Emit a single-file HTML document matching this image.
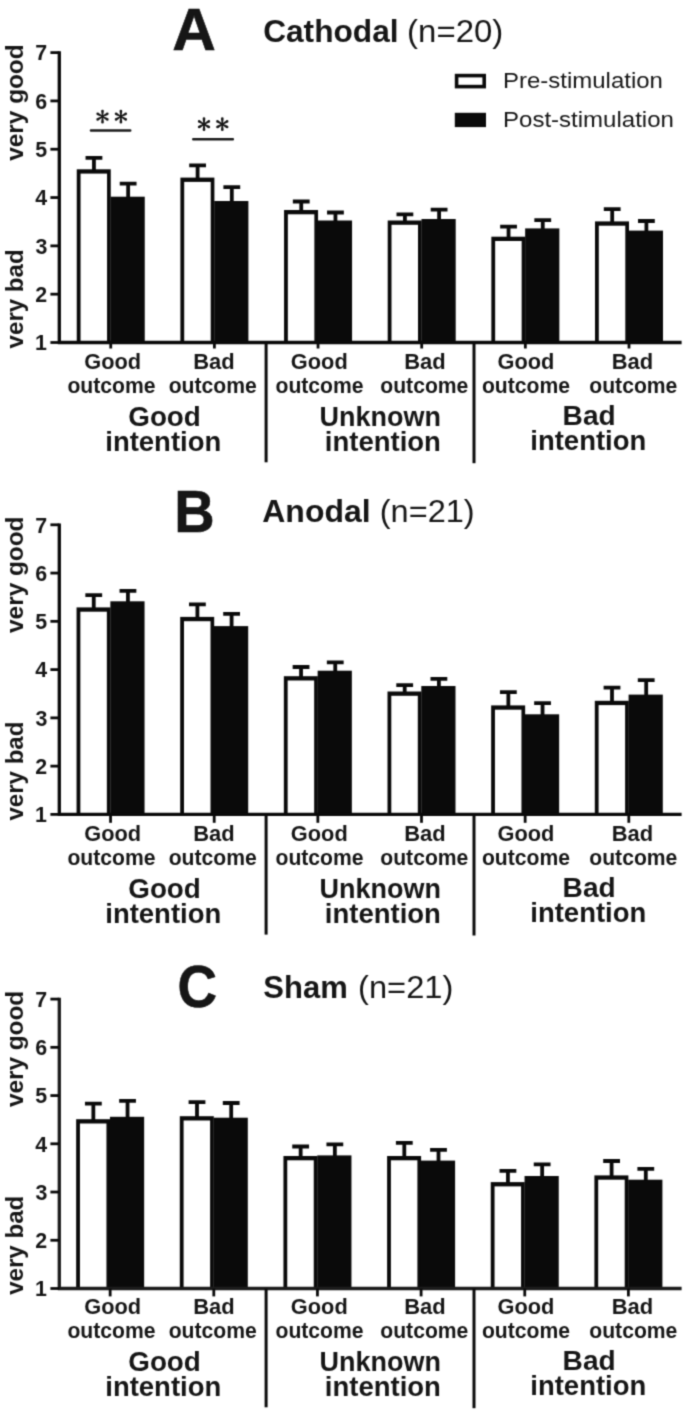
<!DOCTYPE html>
<html><head><meta charset="utf-8"><title>Figure</title>
<style>
html,body{margin:0;padding:0;background:#fff;}
body{width:685px;height:1415px;overflow:hidden;}
svg{display:block;font-family:"Liberation Sans",sans-serif;}
text{fill:#161616;}
</style></head><body>
<svg width="685" height="1415" viewBox="0 0 685 1415">
<defs><filter id="soft" x="0" y="0" width="685" height="1415" filterUnits="userSpaceOnUse" color-interpolation-filters="sRGB"><feConvolveMatrix order="3" kernelMatrix="0.0311 0.1141 0.0311 0.1141 0.4191 0.1141 0.0311 0.1141 0.0311" edgeMode="duplicate" preserveAlpha="true"/></filter></defs>
<rect width="685" height="1415" fill="#fff"/>
<g filter="url(#soft)">
<rect width="685" height="1415" fill="#fff"/>
<!-- panel A -->
<rect x="76.75" y="169.30" width="34.00" height="173.20" fill="#0a0a0a"/>
<rect x="80.55" y="173.60" width="26.50" height="168.90" fill="#fff"/>
<rect x="110.55" y="196.70" width="34.20" height="145.80" fill="#0a0a0a"/>
<path d="M93.95 170.30V157.80M85.55 157.80H102.35" stroke="#0a0a0a" stroke-width="3.8" fill="none"/>
<path d="M128.15 197.70V183.60M119.75 183.60H136.55" stroke="#0a0a0a" stroke-width="3.8" fill="none"/>
<rect x="180.40" y="177.60" width="34.00" height="164.90" fill="#0a0a0a"/>
<rect x="184.20" y="181.90" width="26.50" height="160.60" fill="#fff"/>
<rect x="214.20" y="201.00" width="34.20" height="141.50" fill="#0a0a0a"/>
<path d="M197.60 178.60V165.30M189.20 165.30H206.00" stroke="#0a0a0a" stroke-width="3.8" fill="none"/>
<path d="M231.80 202.00V187.20M223.40 187.20H240.20" stroke="#0a0a0a" stroke-width="3.8" fill="none"/>
<rect x="284.05" y="210.00" width="34.00" height="132.50" fill="#0a0a0a"/>
<rect x="287.85" y="214.30" width="26.50" height="128.20" fill="#fff"/>
<rect x="317.85" y="220.50" width="34.20" height="122.00" fill="#0a0a0a"/>
<path d="M301.25 211.00V201.50M292.85 201.50H309.65" stroke="#0a0a0a" stroke-width="3.8" fill="none"/>
<path d="M335.45 221.50V212.50M327.05 212.50H343.85" stroke="#0a0a0a" stroke-width="3.8" fill="none"/>
<rect x="387.70" y="220.50" width="34.00" height="122.00" fill="#0a0a0a"/>
<rect x="391.50" y="224.80" width="26.50" height="117.70" fill="#fff"/>
<rect x="421.50" y="219.00" width="34.20" height="123.50" fill="#0a0a0a"/>
<path d="M404.90 221.50V214.30M396.50 214.30H413.30" stroke="#0a0a0a" stroke-width="3.8" fill="none"/>
<path d="M439.10 220.00V209.70M430.70 209.70H447.50" stroke="#0a0a0a" stroke-width="3.8" fill="none"/>
<rect x="491.35" y="236.70" width="34.00" height="105.80" fill="#0a0a0a"/>
<rect x="495.15" y="241.00" width="26.50" height="101.50" fill="#fff"/>
<rect x="525.15" y="228.40" width="34.20" height="114.10" fill="#0a0a0a"/>
<path d="M508.55 237.70V226.60M500.15 226.60H516.95" stroke="#0a0a0a" stroke-width="3.8" fill="none"/>
<path d="M542.75 229.40V220.20M534.35 220.20H551.15" stroke="#0a0a0a" stroke-width="3.8" fill="none"/>
<rect x="595.00" y="221.40" width="34.00" height="121.10" fill="#0a0a0a"/>
<rect x="598.80" y="225.70" width="26.50" height="116.80" fill="#fff"/>
<rect x="628.80" y="230.60" width="34.20" height="111.90" fill="#0a0a0a"/>
<path d="M612.20 222.40V209.10M603.80 209.10H620.60" stroke="#0a0a0a" stroke-width="3.8" fill="none"/>
<path d="M646.40 231.60V221.00M638.00 221.00H654.80" stroke="#0a0a0a" stroke-width="3.8" fill="none"/>
<path d="M59.30 51.20V344.00M57.80 342.50H681.6" stroke="#0a0a0a" stroke-width="3.3" fill="none"/>
<path d="M50.4 52.60H59.30" stroke="#0a0a0a" stroke-width="2.8"/>
<text x="35.26" y="60.45" font-size="22.8" font-weight="bold" textLength="11.90" lengthAdjust="spacingAndGlyphs" >7</text>
<path d="M50.4 100.92H59.30" stroke="#0a0a0a" stroke-width="2.8"/>
<text x="35.23" y="108.77" font-size="22.8" font-weight="bold" textLength="11.90" lengthAdjust="spacingAndGlyphs" >6</text>
<path d="M50.4 149.23H59.30" stroke="#0a0a0a" stroke-width="2.8"/>
<text x="35.21" y="157.08" font-size="22.8" font-weight="bold" textLength="11.90" lengthAdjust="spacingAndGlyphs" >5</text>
<path d="M50.4 197.55H59.30" stroke="#0a0a0a" stroke-width="2.8"/>
<text x="35.15" y="205.40" font-size="22.8" font-weight="bold" textLength="11.90" lengthAdjust="spacingAndGlyphs" >4</text>
<path d="M50.4 245.87H59.30" stroke="#0a0a0a" stroke-width="2.8"/>
<text x="35.40" y="253.72" font-size="22.8" font-weight="bold" textLength="11.90" lengthAdjust="spacingAndGlyphs" >3</text>
<path d="M50.4 294.18H59.30" stroke="#0a0a0a" stroke-width="2.8"/>
<text x="35.32" y="302.03" font-size="22.8" font-weight="bold" textLength="11.90" lengthAdjust="spacingAndGlyphs" >2</text>
<path d="M50.4 342.50H59.30" stroke="#0a0a0a" stroke-width="2.8"/>
<text x="34.89" y="350.35" font-size="22.8" font-weight="bold" textLength="11.90" lengthAdjust="spacingAndGlyphs" >1</text>
<path d="M110.75 342.50V348.50" stroke="#0a0a0a" stroke-width="2.8"/>
<path d="M214.40 342.50V348.50" stroke="#0a0a0a" stroke-width="2.8"/>
<path d="M318.05 342.50V348.50" stroke="#0a0a0a" stroke-width="2.8"/>
<path d="M421.70 342.50V348.50" stroke="#0a0a0a" stroke-width="2.8"/>
<path d="M525.35 342.50V348.50" stroke="#0a0a0a" stroke-width="2.8"/>
<path d="M629.00 342.50V348.50" stroke="#0a0a0a" stroke-width="2.8"/>
<path d="M266.10 342.50V462.30" stroke="#0a0a0a" stroke-width="3"/>
<path d="M474.00 342.50V463.20" stroke="#0a0a0a" stroke-width="3"/>
<text transform="translate(22.60 160.72) rotate(-90)" font-size="23.6" font-weight="bold" textLength="116.34" lengthAdjust="spacingAndGlyphs">very good</text>
<text transform="translate(22.60 348.42) rotate(-90)" font-size="23.6" font-weight="bold" textLength="99.11" lengthAdjust="spacingAndGlyphs">very bad</text>
<text x="84.23" y="368.80" font-size="21.4" font-weight="bold" textLength="56.90" lengthAdjust="spacingAndGlyphs" >Good</text>
<text x="67.40" y="393.10" font-size="21.4" font-weight="bold" textLength="88.08" lengthAdjust="spacingAndGlyphs" >outcome</text>
<text x="193.22" y="368.80" font-size="21.4" font-weight="bold" textLength="41.44" lengthAdjust="spacingAndGlyphs" >Bad</text>
<text x="168.65" y="393.10" font-size="21.4" font-weight="bold" textLength="88.08" lengthAdjust="spacingAndGlyphs" >outcome</text>
<text x="290.83" y="368.80" font-size="21.4" font-weight="bold" textLength="56.90" lengthAdjust="spacingAndGlyphs" >Good</text>
<text x="275.50" y="393.10" font-size="21.4" font-weight="bold" textLength="88.08" lengthAdjust="spacingAndGlyphs" >outcome</text>
<text x="404.17" y="368.80" font-size="21.4" font-weight="bold" textLength="41.44" lengthAdjust="spacingAndGlyphs" >Bad</text>
<text x="380.30" y="393.10" font-size="21.4" font-weight="bold" textLength="88.08" lengthAdjust="spacingAndGlyphs" >outcome</text>
<text x="497.53" y="368.80" font-size="21.4" font-weight="bold" textLength="56.90" lengthAdjust="spacingAndGlyphs" >Good</text>
<text x="481.90" y="393.10" font-size="21.4" font-weight="bold" textLength="88.08" lengthAdjust="spacingAndGlyphs" >outcome</text>
<text x="611.67" y="368.80" font-size="21.4" font-weight="bold" textLength="41.44" lengthAdjust="spacingAndGlyphs" >Bad</text>
<text x="589.30" y="393.10" font-size="21.4" font-weight="bold" textLength="88.08" lengthAdjust="spacingAndGlyphs" >outcome</text>
<text x="128.24" y="425.70" font-size="27.6" font-weight="bold" textLength="72.63" lengthAdjust="spacingAndGlyphs" >Good</text>
<text x="105.28" y="450.90" font-size="27.6" font-weight="bold" textLength="116.01" lengthAdjust="spacingAndGlyphs" >intention</text>
<text x="319.48" y="425.70" font-size="27.6" font-weight="bold" textLength="121.43" lengthAdjust="spacingAndGlyphs" >Unknown</text>
<text x="324.82" y="450.90" font-size="27.6" font-weight="bold" textLength="116.11" lengthAdjust="spacingAndGlyphs" >intention</text>
<text x="562.60" y="424.70" font-size="27.6" font-weight="bold" textLength="53.07" lengthAdjust="spacingAndGlyphs" >Bad</text>
<text x="530.33" y="449.90" font-size="27.6" font-weight="bold" textLength="115.91" lengthAdjust="spacingAndGlyphs" >intention</text>
<text x="172.39" y="50.20" font-size="59.4" font-weight="bold" textLength="43.55" lengthAdjust="spacingAndGlyphs" stroke="#0d0d0d" stroke-width="0.6">A</text>
<text x="263.13" y="41.90" font-size="31.8" font-weight="bold" textLength="135.50" lengthAdjust="spacingAndGlyphs" >Cathodal</text>
<text x="407.14" y="41.90" font-size="31.6" font-weight="normal" textLength="96.15" lengthAdjust="spacingAndGlyphs" fill="#262626">(n=20)</text>
<!-- panel B -->
<rect x="76.55" y="607.40" width="34.00" height="207.00" fill="#0a0a0a"/>
<rect x="80.35" y="611.70" width="26.50" height="202.70" fill="#fff"/>
<rect x="110.35" y="601.30" width="34.20" height="213.10" fill="#0a0a0a"/>
<path d="M93.75 608.40V595.10M85.35 595.10H102.15" stroke="#0a0a0a" stroke-width="3.8" fill="none"/>
<path d="M127.95 602.30V590.80M119.55 590.80H136.35" stroke="#0a0a0a" stroke-width="3.8" fill="none"/>
<rect x="180.20" y="616.90" width="34.00" height="197.50" fill="#0a0a0a"/>
<rect x="184.00" y="621.20" width="26.50" height="193.20" fill="#fff"/>
<rect x="214.00" y="626.10" width="34.20" height="188.30" fill="#0a0a0a"/>
<path d="M197.40 617.90V604.30M189.00 604.30H205.80" stroke="#0a0a0a" stroke-width="3.8" fill="none"/>
<path d="M231.60 627.10V613.80M223.20 613.80H240.00" stroke="#0a0a0a" stroke-width="3.8" fill="none"/>
<rect x="283.85" y="676.20" width="34.00" height="138.20" fill="#0a0a0a"/>
<rect x="287.65" y="680.50" width="26.50" height="133.90" fill="#fff"/>
<rect x="317.65" y="670.70" width="34.20" height="143.70" fill="#0a0a0a"/>
<path d="M301.05 677.20V667.00M292.65 667.00H309.45" stroke="#0a0a0a" stroke-width="3.8" fill="none"/>
<path d="M335.25 671.70V662.40M326.85 662.40H343.65" stroke="#0a0a0a" stroke-width="3.8" fill="none"/>
<rect x="387.50" y="691.50" width="34.00" height="122.90" fill="#0a0a0a"/>
<rect x="391.30" y="695.80" width="26.50" height="118.60" fill="#fff"/>
<rect x="421.30" y="686.00" width="34.20" height="128.40" fill="#0a0a0a"/>
<path d="M404.70 692.50V685.10M396.30 685.10H413.10" stroke="#0a0a0a" stroke-width="3.8" fill="none"/>
<path d="M438.90 687.00V678.90M430.50 678.90H447.30" stroke="#0a0a0a" stroke-width="3.8" fill="none"/>
<rect x="491.15" y="705.40" width="34.00" height="109.00" fill="#0a0a0a"/>
<rect x="494.95" y="709.70" width="26.50" height="104.70" fill="#fff"/>
<rect x="524.95" y="714.30" width="34.20" height="100.10" fill="#0a0a0a"/>
<path d="M508.35 706.40V692.20M499.95 692.20H516.75" stroke="#0a0a0a" stroke-width="3.8" fill="none"/>
<path d="M542.55 715.30V703.20M534.15 703.20H550.95" stroke="#0a0a0a" stroke-width="3.8" fill="none"/>
<rect x="594.80" y="700.80" width="34.00" height="113.60" fill="#0a0a0a"/>
<rect x="598.60" y="705.10" width="26.50" height="109.30" fill="#fff"/>
<rect x="628.60" y="694.60" width="34.20" height="119.80" fill="#0a0a0a"/>
<path d="M612.00 701.80V687.60M603.60 687.60H620.40" stroke="#0a0a0a" stroke-width="3.8" fill="none"/>
<path d="M646.20 695.60V680.20M637.80 680.20H654.60" stroke="#0a0a0a" stroke-width="3.8" fill="none"/>
<path d="M59.30 523.40V815.90M57.80 814.40H681.6" stroke="#0a0a0a" stroke-width="3.3" fill="none"/>
<path d="M50.4 524.80H59.30" stroke="#0a0a0a" stroke-width="2.8"/>
<text x="35.26" y="532.65" font-size="22.8" font-weight="bold" textLength="11.90" lengthAdjust="spacingAndGlyphs" >7</text>
<path d="M50.4 573.07H59.30" stroke="#0a0a0a" stroke-width="2.8"/>
<text x="35.23" y="580.92" font-size="22.8" font-weight="bold" textLength="11.90" lengthAdjust="spacingAndGlyphs" >6</text>
<path d="M50.4 621.33H59.30" stroke="#0a0a0a" stroke-width="2.8"/>
<text x="35.21" y="629.18" font-size="22.8" font-weight="bold" textLength="11.90" lengthAdjust="spacingAndGlyphs" >5</text>
<path d="M50.4 669.60H59.30" stroke="#0a0a0a" stroke-width="2.8"/>
<text x="35.15" y="677.45" font-size="22.8" font-weight="bold" textLength="11.90" lengthAdjust="spacingAndGlyphs" >4</text>
<path d="M50.4 717.87H59.30" stroke="#0a0a0a" stroke-width="2.8"/>
<text x="35.40" y="725.72" font-size="22.8" font-weight="bold" textLength="11.90" lengthAdjust="spacingAndGlyphs" >3</text>
<path d="M50.4 766.13H59.30" stroke="#0a0a0a" stroke-width="2.8"/>
<text x="35.32" y="773.98" font-size="22.8" font-weight="bold" textLength="11.90" lengthAdjust="spacingAndGlyphs" >2</text>
<path d="M50.4 814.40H59.30" stroke="#0a0a0a" stroke-width="2.8"/>
<text x="34.89" y="822.25" font-size="22.8" font-weight="bold" textLength="11.90" lengthAdjust="spacingAndGlyphs" >1</text>
<path d="M110.55 814.40V822.80" stroke="#0a0a0a" stroke-width="2.8"/>
<path d="M214.20 814.40V822.80" stroke="#0a0a0a" stroke-width="2.8"/>
<path d="M317.85 814.40V822.80" stroke="#0a0a0a" stroke-width="2.8"/>
<path d="M421.50 814.40V822.80" stroke="#0a0a0a" stroke-width="2.8"/>
<path d="M525.15 814.40V822.80" stroke="#0a0a0a" stroke-width="2.8"/>
<path d="M628.80 814.40V822.80" stroke="#0a0a0a" stroke-width="2.8"/>
<path d="M266.10 814.40V934.60" stroke="#0a0a0a" stroke-width="3"/>
<path d="M474.00 814.40V935.50" stroke="#0a0a0a" stroke-width="3"/>
<text transform="translate(22.60 632.92) rotate(-90)" font-size="23.6" font-weight="bold" textLength="116.34" lengthAdjust="spacingAndGlyphs">very good</text>
<text transform="translate(22.60 820.62) rotate(-90)" font-size="23.6" font-weight="bold" textLength="99.11" lengthAdjust="spacingAndGlyphs">very bad</text>
<text x="84.23" y="841.10" font-size="21.4" font-weight="bold" textLength="56.90" lengthAdjust="spacingAndGlyphs" >Good</text>
<text x="67.40" y="865.40" font-size="21.4" font-weight="bold" textLength="88.08" lengthAdjust="spacingAndGlyphs" >outcome</text>
<text x="193.22" y="841.10" font-size="21.4" font-weight="bold" textLength="41.44" lengthAdjust="spacingAndGlyphs" >Bad</text>
<text x="168.65" y="865.40" font-size="21.4" font-weight="bold" textLength="88.08" lengthAdjust="spacingAndGlyphs" >outcome</text>
<text x="290.83" y="841.10" font-size="21.4" font-weight="bold" textLength="56.90" lengthAdjust="spacingAndGlyphs" >Good</text>
<text x="275.50" y="865.40" font-size="21.4" font-weight="bold" textLength="88.08" lengthAdjust="spacingAndGlyphs" >outcome</text>
<text x="404.17" y="841.10" font-size="21.4" font-weight="bold" textLength="41.44" lengthAdjust="spacingAndGlyphs" >Bad</text>
<text x="380.30" y="865.40" font-size="21.4" font-weight="bold" textLength="88.08" lengthAdjust="spacingAndGlyphs" >outcome</text>
<text x="497.53" y="841.10" font-size="21.4" font-weight="bold" textLength="56.90" lengthAdjust="spacingAndGlyphs" >Good</text>
<text x="481.90" y="865.40" font-size="21.4" font-weight="bold" textLength="88.08" lengthAdjust="spacingAndGlyphs" >outcome</text>
<text x="611.67" y="841.10" font-size="21.4" font-weight="bold" textLength="41.44" lengthAdjust="spacingAndGlyphs" >Bad</text>
<text x="589.30" y="865.40" font-size="21.4" font-weight="bold" textLength="88.08" lengthAdjust="spacingAndGlyphs" >outcome</text>
<text x="128.24" y="898.00" font-size="27.6" font-weight="bold" textLength="72.63" lengthAdjust="spacingAndGlyphs" >Good</text>
<text x="105.28" y="923.20" font-size="27.6" font-weight="bold" textLength="116.01" lengthAdjust="spacingAndGlyphs" >intention</text>
<text x="319.48" y="898.00" font-size="27.6" font-weight="bold" textLength="121.43" lengthAdjust="spacingAndGlyphs" >Unknown</text>
<text x="324.82" y="923.20" font-size="27.6" font-weight="bold" textLength="116.11" lengthAdjust="spacingAndGlyphs" >intention</text>
<text x="562.60" y="897.00" font-size="27.6" font-weight="bold" textLength="53.07" lengthAdjust="spacingAndGlyphs" >Bad</text>
<text x="530.33" y="922.20" font-size="27.6" font-weight="bold" textLength="115.91" lengthAdjust="spacingAndGlyphs" >intention</text>
<text x="174.23" y="532.40" font-size="60" font-weight="bold" textLength="40.37" lengthAdjust="spacingAndGlyphs" stroke="#0d0d0d" stroke-width="0.6">B</text>
<text x="262.30" y="522.30" font-size="31.8" font-weight="bold" textLength="108.28" lengthAdjust="spacingAndGlyphs" >Anodal</text>
<text x="379.77" y="522.30" font-size="31.6" font-weight="normal" textLength="94.90" lengthAdjust="spacingAndGlyphs" fill="#262626">(n=21)</text>
<!-- panel C -->
<rect x="76.15" y="1119.20" width="34.00" height="169.30" fill="#0a0a0a"/>
<rect x="79.95" y="1123.50" width="26.50" height="165.00" fill="#fff"/>
<rect x="109.95" y="1116.80" width="34.20" height="171.70" fill="#0a0a0a"/>
<path d="M93.35 1120.20V1103.60M84.95 1103.60H101.75" stroke="#0a0a0a" stroke-width="3.8" fill="none"/>
<path d="M127.55 1117.80V1100.80M119.15 1100.80H135.95" stroke="#0a0a0a" stroke-width="3.8" fill="none"/>
<rect x="179.80" y="1116.20" width="34.00" height="172.30" fill="#0a0a0a"/>
<rect x="183.60" y="1120.50" width="26.50" height="168.00" fill="#fff"/>
<rect x="213.60" y="1117.70" width="34.20" height="170.80" fill="#0a0a0a"/>
<path d="M197.00 1117.20V1102.10M188.60 1102.10H205.40" stroke="#0a0a0a" stroke-width="3.8" fill="none"/>
<path d="M231.20 1118.70V1103.00M222.80 1103.00H239.60" stroke="#0a0a0a" stroke-width="3.8" fill="none"/>
<rect x="283.45" y="1156.00" width="34.00" height="132.50" fill="#0a0a0a"/>
<rect x="287.25" y="1160.30" width="26.50" height="128.20" fill="#fff"/>
<rect x="317.25" y="1155.40" width="34.20" height="133.10" fill="#0a0a0a"/>
<path d="M300.65 1157.00V1146.50M292.25 1146.50H309.05" stroke="#0a0a0a" stroke-width="3.8" fill="none"/>
<path d="M334.85 1156.40V1144.30M326.45 1144.30H343.25" stroke="#0a0a0a" stroke-width="3.8" fill="none"/>
<rect x="387.10" y="1156.00" width="34.00" height="132.50" fill="#0a0a0a"/>
<rect x="390.90" y="1160.30" width="26.50" height="128.20" fill="#fff"/>
<rect x="420.90" y="1160.60" width="34.20" height="127.90" fill="#0a0a0a"/>
<path d="M404.30 1157.00V1142.80M395.90 1142.80H412.70" stroke="#0a0a0a" stroke-width="3.8" fill="none"/>
<path d="M438.50 1161.60V1149.90M430.10 1149.90H446.90" stroke="#0a0a0a" stroke-width="3.8" fill="none"/>
<rect x="490.75" y="1182.10" width="34.00" height="106.40" fill="#0a0a0a"/>
<rect x="494.55" y="1186.40" width="26.50" height="102.10" fill="#fff"/>
<rect x="524.55" y="1176.00" width="34.20" height="112.50" fill="#0a0a0a"/>
<path d="M507.95 1183.10V1170.80M499.55 1170.80H516.35" stroke="#0a0a0a" stroke-width="3.8" fill="none"/>
<path d="M542.15 1177.00V1164.30M533.75 1164.30H550.55" stroke="#0a0a0a" stroke-width="3.8" fill="none"/>
<rect x="594.40" y="1175.40" width="34.00" height="113.10" fill="#0a0a0a"/>
<rect x="598.20" y="1179.70" width="26.50" height="108.80" fill="#fff"/>
<rect x="628.20" y="1179.70" width="34.20" height="108.80" fill="#0a0a0a"/>
<path d="M611.60 1176.40V1161.00M603.20 1161.00H620.00" stroke="#0a0a0a" stroke-width="3.8" fill="none"/>
<path d="M645.80 1180.70V1168.90M637.40 1168.90H654.20" stroke="#0a0a0a" stroke-width="3.8" fill="none"/>
<path d="M59.30 997.70V1290.00M57.80 1288.50H681.6" stroke="#1c1c1c" stroke-width="3.3" fill="none"/>
<path d="M50.4 999.10H59.30" stroke="#0a0a0a" stroke-width="2.8"/>
<text x="35.26" y="1006.95" font-size="22.8" font-weight="bold" textLength="11.90" lengthAdjust="spacingAndGlyphs" >7</text>
<path d="M50.4 1047.33H59.30" stroke="#0a0a0a" stroke-width="2.8"/>
<text x="35.23" y="1055.18" font-size="22.8" font-weight="bold" textLength="11.90" lengthAdjust="spacingAndGlyphs" >6</text>
<path d="M50.4 1095.57H59.30" stroke="#0a0a0a" stroke-width="2.8"/>
<text x="35.21" y="1103.42" font-size="22.8" font-weight="bold" textLength="11.90" lengthAdjust="spacingAndGlyphs" >5</text>
<path d="M50.4 1143.80H59.30" stroke="#0a0a0a" stroke-width="2.8"/>
<text x="35.15" y="1151.65" font-size="22.8" font-weight="bold" textLength="11.90" lengthAdjust="spacingAndGlyphs" >4</text>
<path d="M50.4 1192.03H59.30" stroke="#0a0a0a" stroke-width="2.8"/>
<text x="35.40" y="1199.88" font-size="22.8" font-weight="bold" textLength="11.90" lengthAdjust="spacingAndGlyphs" >3</text>
<path d="M50.4 1240.27H59.30" stroke="#0a0a0a" stroke-width="2.8"/>
<text x="35.32" y="1248.12" font-size="22.8" font-weight="bold" textLength="11.90" lengthAdjust="spacingAndGlyphs" >2</text>
<path d="M50.4 1288.50H59.30" stroke="#0a0a0a" stroke-width="2.8"/>
<text x="34.89" y="1296.35" font-size="22.8" font-weight="bold" textLength="11.90" lengthAdjust="spacingAndGlyphs" >1</text>
<path d="M110.15 1288.50V1296.40" stroke="#0a0a0a" stroke-width="2.8"/>
<path d="M213.80 1288.50V1296.40" stroke="#0a0a0a" stroke-width="2.8"/>
<path d="M317.45 1288.50V1296.40" stroke="#0a0a0a" stroke-width="2.8"/>
<path d="M421.10 1288.50V1296.40" stroke="#0a0a0a" stroke-width="2.8"/>
<path d="M524.75 1288.50V1296.40" stroke="#0a0a0a" stroke-width="2.8"/>
<path d="M628.40 1288.50V1296.40" stroke="#0a0a0a" stroke-width="2.8"/>
<path d="M266.10 1288.50V1407.30" stroke="#0a0a0a" stroke-width="3"/>
<path d="M474.00 1288.50V1408.20" stroke="#0a0a0a" stroke-width="3"/>
<text transform="translate(22.60 1107.12) rotate(-90)" font-size="23.6" font-weight="bold" textLength="116.34" lengthAdjust="spacingAndGlyphs">very good</text>
<text transform="translate(22.60 1294.82) rotate(-90)" font-size="23.6" font-weight="bold" textLength="99.11" lengthAdjust="spacingAndGlyphs">very bad</text>
<text x="84.23" y="1313.80" font-size="21.4" font-weight="bold" textLength="56.90" lengthAdjust="spacingAndGlyphs" >Good</text>
<text x="67.40" y="1338.10" font-size="21.4" font-weight="bold" textLength="88.08" lengthAdjust="spacingAndGlyphs" >outcome</text>
<text x="193.22" y="1313.80" font-size="21.4" font-weight="bold" textLength="41.44" lengthAdjust="spacingAndGlyphs" >Bad</text>
<text x="168.65" y="1338.10" font-size="21.4" font-weight="bold" textLength="88.08" lengthAdjust="spacingAndGlyphs" >outcome</text>
<text x="290.83" y="1313.80" font-size="21.4" font-weight="bold" textLength="56.90" lengthAdjust="spacingAndGlyphs" >Good</text>
<text x="275.50" y="1338.10" font-size="21.4" font-weight="bold" textLength="88.08" lengthAdjust="spacingAndGlyphs" >outcome</text>
<text x="404.17" y="1313.80" font-size="21.4" font-weight="bold" textLength="41.44" lengthAdjust="spacingAndGlyphs" >Bad</text>
<text x="380.30" y="1338.10" font-size="21.4" font-weight="bold" textLength="88.08" lengthAdjust="spacingAndGlyphs" >outcome</text>
<text x="497.53" y="1313.80" font-size="21.4" font-weight="bold" textLength="56.90" lengthAdjust="spacingAndGlyphs" >Good</text>
<text x="481.90" y="1338.10" font-size="21.4" font-weight="bold" textLength="88.08" lengthAdjust="spacingAndGlyphs" >outcome</text>
<text x="611.67" y="1313.80" font-size="21.4" font-weight="bold" textLength="41.44" lengthAdjust="spacingAndGlyphs" >Bad</text>
<text x="589.30" y="1338.10" font-size="21.4" font-weight="bold" textLength="88.08" lengthAdjust="spacingAndGlyphs" >outcome</text>
<text x="128.24" y="1370.70" font-size="27.6" font-weight="bold" textLength="72.63" lengthAdjust="spacingAndGlyphs" >Good</text>
<text x="105.28" y="1395.90" font-size="27.6" font-weight="bold" textLength="116.01" lengthAdjust="spacingAndGlyphs" >intention</text>
<text x="319.48" y="1370.70" font-size="27.6" font-weight="bold" textLength="121.43" lengthAdjust="spacingAndGlyphs" >Unknown</text>
<text x="324.82" y="1395.90" font-size="27.6" font-weight="bold" textLength="116.11" lengthAdjust="spacingAndGlyphs" >intention</text>
<text x="562.60" y="1369.70" font-size="27.6" font-weight="bold" textLength="53.07" lengthAdjust="spacingAndGlyphs" >Bad</text>
<text x="530.33" y="1394.90" font-size="27.6" font-weight="bold" textLength="115.91" lengthAdjust="spacingAndGlyphs" >intention</text>
<text x="177.61" y="1006.70" font-size="60" font-weight="bold" textLength="39.58" lengthAdjust="spacingAndGlyphs" stroke="#0d0d0d" stroke-width="0.6">C</text>
<text x="263.37" y="998.00" font-size="31.8" font-weight="bold" textLength="84.41" lengthAdjust="spacingAndGlyphs" >Sham</text>
<text x="358.06" y="998.00" font-size="31.6" font-weight="normal" textLength="95.32" lengthAdjust="spacingAndGlyphs" fill="#262626">(n=21)</text>
<!-- legend -->
<rect x="456.6" y="75.6" width="27.6" height="11.0" fill="#fff" stroke="#0a0a0a" stroke-width="3.6"/>
<rect x="454.8" y="112.8" width="31.2" height="14.3" fill="#0a0a0a"/>
<text x="503.02" y="88.30" font-size="22.2" font-weight="normal" textLength="159.88" lengthAdjust="spacingAndGlyphs" fill="#262626">Pre-stimulation</text>
<text x="503.02" y="127.00" font-size="22.2" font-weight="normal" textLength="170.88" lengthAdjust="spacingAndGlyphs" fill="#262626">Post-stimulation</text>
<!-- significance -->
<path d="M91 130.5H130.2M193.3 139.2H232.8" stroke="#1a1a1a" stroke-width="2.6" stroke-linecap="round"/>
<path d="M103.10 116.60L103.85 111.05L101.15 111.05L101.90 116.60ZM101.15 111.05a1.35 1.35 0 1 0 2.70 0a1.35 1.35 0 1 0 -2.70 0ZM102.80 117.12L107.98 114.99L106.63 112.66L102.20 116.08ZM105.96 113.82a1.35 1.35 0 1 0 2.70 0a1.35 1.35 0 1 0 -2.70 0ZM102.20 117.12L106.63 120.54L107.98 118.21L102.80 116.08ZM105.96 119.38a1.35 1.35 0 1 0 2.70 0a1.35 1.35 0 1 0 -2.70 0ZM101.90 116.60L101.15 122.15L103.85 122.15L103.10 116.60ZM101.15 122.15a1.35 1.35 0 1 0 2.70 0a1.35 1.35 0 1 0 -2.70 0ZM102.20 116.08L97.02 118.21L98.37 120.54L102.80 117.12ZM96.34 119.38a1.35 1.35 0 1 0 2.70 0a1.35 1.35 0 1 0 -2.70 0ZM102.80 116.08L98.37 112.66L97.02 114.99L102.20 117.12ZM96.34 113.82a1.35 1.35 0 1 0 2.70 0a1.35 1.35 0 1 0 -2.70 0Z" fill="#161616"/>
<circle cx="102.50" cy="116.60" r="1.5" fill="#161616"/>
<path d="M121.50 116.60L122.25 111.05L119.55 111.05L120.30 116.60ZM119.55 111.05a1.35 1.35 0 1 0 2.70 0a1.35 1.35 0 1 0 -2.70 0ZM121.20 117.12L126.38 114.99L125.03 112.66L120.60 116.08ZM124.36 113.82a1.35 1.35 0 1 0 2.70 0a1.35 1.35 0 1 0 -2.70 0ZM120.60 117.12L125.03 120.54L126.38 118.21L121.20 116.08ZM124.36 119.38a1.35 1.35 0 1 0 2.70 0a1.35 1.35 0 1 0 -2.70 0ZM120.30 116.60L119.55 122.15L122.25 122.15L121.50 116.60ZM119.55 122.15a1.35 1.35 0 1 0 2.70 0a1.35 1.35 0 1 0 -2.70 0ZM120.60 116.08L115.42 118.21L116.77 120.54L121.20 117.12ZM114.74 119.38a1.35 1.35 0 1 0 2.70 0a1.35 1.35 0 1 0 -2.70 0ZM121.20 116.08L116.77 112.66L115.42 114.99L120.60 117.12ZM114.74 113.82a1.35 1.35 0 1 0 2.70 0a1.35 1.35 0 1 0 -2.70 0Z" fill="#161616"/>
<circle cx="120.90" cy="116.60" r="1.5" fill="#161616"/>
<path d="M204.60 124.20L205.35 118.65L202.65 118.65L203.40 124.20ZM202.65 118.65a1.35 1.35 0 1 0 2.70 0a1.35 1.35 0 1 0 -2.70 0ZM204.30 124.72L209.48 122.59L208.13 120.26L203.70 123.68ZM207.46 121.42a1.35 1.35 0 1 0 2.70 0a1.35 1.35 0 1 0 -2.70 0ZM203.70 124.72L208.13 128.14L209.48 125.81L204.30 123.68ZM207.46 126.98a1.35 1.35 0 1 0 2.70 0a1.35 1.35 0 1 0 -2.70 0ZM203.40 124.20L202.65 129.75L205.35 129.75L204.60 124.20ZM202.65 129.75a1.35 1.35 0 1 0 2.70 0a1.35 1.35 0 1 0 -2.70 0ZM203.70 123.68L198.52 125.81L199.87 128.14L204.30 124.72ZM197.84 126.98a1.35 1.35 0 1 0 2.70 0a1.35 1.35 0 1 0 -2.70 0ZM204.30 123.68L199.87 120.26L198.52 122.59L203.70 124.72ZM197.84 121.42a1.35 1.35 0 1 0 2.70 0a1.35 1.35 0 1 0 -2.70 0Z" fill="#161616"/>
<circle cx="204.00" cy="124.20" r="1.5" fill="#161616"/>
<path d="M222.90 124.20L223.65 118.65L220.95 118.65L221.70 124.20ZM220.95 118.65a1.35 1.35 0 1 0 2.70 0a1.35 1.35 0 1 0 -2.70 0ZM222.60 124.72L227.78 122.59L226.43 120.26L222.00 123.68ZM225.76 121.42a1.35 1.35 0 1 0 2.70 0a1.35 1.35 0 1 0 -2.70 0ZM222.00 124.72L226.43 128.14L227.78 125.81L222.60 123.68ZM225.76 126.98a1.35 1.35 0 1 0 2.70 0a1.35 1.35 0 1 0 -2.70 0ZM221.70 124.20L220.95 129.75L223.65 129.75L222.90 124.20ZM220.95 129.75a1.35 1.35 0 1 0 2.70 0a1.35 1.35 0 1 0 -2.70 0ZM222.00 123.68L216.82 125.81L218.17 128.14L222.60 124.72ZM216.14 126.98a1.35 1.35 0 1 0 2.70 0a1.35 1.35 0 1 0 -2.70 0ZM222.60 123.68L218.17 120.26L216.82 122.59L222.00 124.72ZM216.14 121.42a1.35 1.35 0 1 0 2.70 0a1.35 1.35 0 1 0 -2.70 0Z" fill="#161616"/>
<circle cx="222.30" cy="124.20" r="1.5" fill="#161616"/>
</g>
</svg>
</body></html>
